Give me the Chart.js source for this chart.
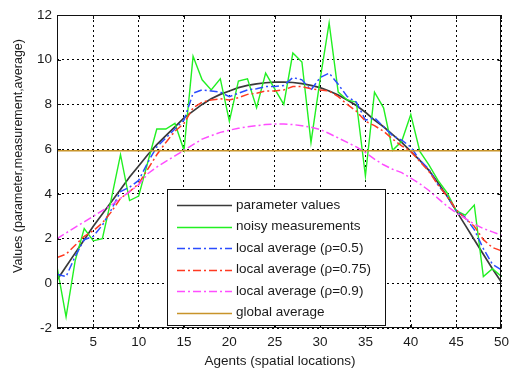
<!DOCTYPE html>
<html>
<head>
<meta charset="utf-8">
<script src="https://cdn.jsdelivr.net/npm/chart.js@4/dist/chart.umd.min.js"></script>
<style>
html,body{margin:0;padding:0;background:#fff;}
#wrap{width:515px;height:369px;position:relative;}
</style>
</head>
<body>
<div id="wrap"><canvas id="c" width="515" height="369"></canvas></div>
<script>
const agents = [1,2,3,4,5,6,7,8,9,10,11,12,13,14,15,16,17,18,19,20,21,22,23,24,25,26,27,28,29,30,31,32,33,34,35,36,37,38,39,40,41,42,43,44,45,46,47,48,49,50];
const parameterValues = [0.15,0.75,1.35,1.95,2.55,3.1,3.65,4.2,4.75,5.25,5.75,6.2,6.6,7.0,7.4,7.7,8.0,8.25,8.45,8.6,8.75,8.85,8.92,8.97,9.0,9.0,8.98,8.93,8.85,8.75,8.6,8.42,8.2,7.95,7.65,7.3,7.0,6.65,6.3,5.9,5.5,5.05,4.5,3.9,3.25,2.6,1.95,1.3,0.65,0.05];
const noisyMeasurements = [0.75,-1.5,1.0,2.45,1.9,2.0,3.8,5.75,3.7,3.9,5.4,6.9,6.9,7.15,5.95,10.15,9.1,8.65,9.15,7.25,9.05,9.15,7.85,9.4,8.7,8.0,10.3,9.9,6.3,9.1,11.65,8.55,8.2,8.1,4.8,8.55,7.85,5.95,6.35,7.55,5.9,5.3,4.6,4.05,3.25,3.05,3.5,0.3,0.65,0.3];
const localAvg05 = [0.4,0.3,1.2,1.95,2.1,2.6,3.3,4.1,4.3,4.6,5.4,6.1,6.5,6.9,7.3,8.5,8.65,8.6,8.55,8.35,8.5,8.65,8.7,8.8,8.8,8.85,9.2,9.1,8.65,9.2,9.4,8.9,8.35,8.1,7.3,7.4,7.0,6.6,6.4,6.1,5.5,5.1,4.4,3.9,3.25,2.95,2.4,1.55,0.85,0.6];
const localAvg075 = [1.15,1.3,1.7,2.1,2.35,2.7,3.2,3.8,4.1,4.45,5.1,5.75,6.3,6.8,7.15,7.85,8.1,8.2,8.25,8.2,8.3,8.45,8.5,8.6,8.6,8.65,8.8,8.8,8.7,8.65,8.6,8.35,8.0,7.7,7.25,7.05,6.8,6.45,6.15,5.9,5.45,5.0,4.4,3.9,3.3,2.9,2.55,1.95,1.6,1.45];
const localAvg09 = [2.0,2.25,2.5,2.75,3.0,3.25,3.5,3.8,4.1,4.4,4.9,5.2,5.45,5.7,5.95,6.2,6.45,6.6,6.75,6.85,6.93,7.0,7.05,7.1,7.12,7.12,7.1,7.05,6.98,6.88,6.7,6.5,6.3,6.1,5.85,5.55,5.3,5.1,4.95,4.7,4.45,4.15,3.8,3.45,3.15,2.9,2.65,2.45,2.3,2.15];
const globalAverage = [5.93,5.93,5.93,5.93,5.93,5.93,5.93,5.93,5.93,5.93,5.93,5.93,5.93,5.93,5.93,5.93,5.93,5.93,5.93,5.93,5.93,5.93,5.93,5.93,5.93,5.93,5.93,5.93,5.93,5.93,5.93,5.93,5.93,5.93,5.93,5.93,5.93,5.93,5.93,5.93,5.93,5.93,5.93,5.93,5.93,5.93,5.93,5.93,5.93,5.93];
const xTickValues = [5,10,15,20,25,30,35,40,45,50];
const yTickValues = [-2,0,2,4,6,8,10,12];
const seriesLabels = ['parameter values','noisy measurements','local average (\u03c1=0.5)','local average (\u03c1=0.75)','local average (\u03c1=0.9)','global average'];
const xTitle = 'Agents (spatial locations)';
const yTitle = 'Values (parameter,measurement,average)';

const FONT = '"Liberation Sans", Arial, Helvetica, sans-serif';
const TEXT = '#1a1a1a';
const dashDot = [8,3,2,3];

function pts(arr){ return arr.map((v,i)=>({x:agents[i], y:v})); }

const styles = [
  {color:'#3a3a3a', width:1.7, dash:[]},
  {color:'#22f022', width:1.4, dash:[]},
  {color:'#2b4cff', width:1.5, dash:dashDot},
  {color:'#ff3a22', width:1.5, dash:dashDot},
  {color:'#ff4dff', width:1.5, dash:dashDot},
  {color:'#c8942a', width:1.6, dash:[]}
];
const seriesData = [parameterValues, noisyMeasurements, localAvg05, localAvg075, localAvg09, globalAverage];

const datasets = seriesData.map((arr,i)=>({
  label: seriesLabels[i],
  data: pts(arr),
  borderColor: styles[i].color,
  borderWidth: styles[i].width,
  borderDash: styles[i].dash,
  pointRadius: 0,
  fill: false,
  tension: 0,
  order: seriesData.length - i
}));

const decor = {
  id:'decor',
  afterDatasetsDraw(chart){
    const ctx = chart.ctx, a = chart.chartArea;
    const xs = chart.scales.x, ys = chart.scales.y;
    ctx.save();
    ctx.strokeStyle = '#111';
    ctx.lineWidth = 1;
    ctx.setLineDash([]);
    ctx.strokeRect(Math.round(a.left)+0.5, Math.round(a.top)+0.5, Math.round(a.right-a.left)-1, Math.round(a.bottom-a.top)-1);
    ctx.beginPath();
    xTickValues.forEach(v=>{
      const px = Math.round(xs.getPixelForValue(v))+0.5;
      ctx.moveTo(px, a.bottom); ctx.lineTo(px, a.bottom-4);
      ctx.moveTo(px, a.top); ctx.lineTo(px, a.top+4);
    });
    yTickValues.forEach(v=>{
      const py = Math.round(ys.getPixelForValue(v))+0.5;
      ctx.moveTo(a.left, py); ctx.lineTo(a.left+4, py);
      ctx.moveTo(a.right, py); ctx.lineTo(a.right-4, py);
    });
    ctx.stroke();
    const lx = 167.5, ly = 189.5, lw = 218, lh = 136;
    ctx.fillStyle = '#fff';
    ctx.fillRect(lx, ly, lw, lh);
    ctx.strokeStyle = '#111';
    ctx.strokeRect(lx, ly, lw, lh);
    ctx.font = '13.5px ' + FONT;
    ctx.textBaseline = 'middle';
    ctx.textAlign = 'left';
    seriesLabels.forEach((lab,i)=>{
      const y = 205 + i*21.5;
      ctx.beginPath();
      ctx.strokeStyle = styles[i].color;
      ctx.lineWidth = styles[i].width;
      ctx.setLineDash(styles[i].dash);
      ctx.moveTo(177, Math.round(y)+0.5);
      ctx.lineTo(232, Math.round(y)+0.5);
      ctx.stroke();
      ctx.setLineDash([]);
      ctx.fillStyle = TEXT;
      ctx.fillText(lab, 236, y);
    });
    ctx.fillStyle = TEXT;
    ctx.font = '13.5px ' + FONT;
    ctx.textAlign = 'center';
    ctx.textBaseline = 'middle';
    ctx.fillText(xTitle, 280, 361);
    ctx.save();
    ctx.translate(19, 156);
    ctx.rotate(-Math.PI/2);
    ctx.font = '12.5px ' + FONT;
    ctx.fillText(yTitle, 0, 0);
    ctx.restore();
    ctx.restore();
  }
};

new Chart(document.getElementById('c'), {
  type:'line',
  data:{datasets},
  options:{
    responsive:false,
    animation:false,
    devicePixelRatio:1,
    layout:{padding:{left:0,right:8,top:15,bottom:0}},
    plugins:{legend:{display:false}, tooltip:{enabled:false}, title:{display:false}},
    scales:{
      x:{
        type:'linear', min:1, max:50,
        afterBuildTicks(s){ s.ticks = xTickValues.map(v=>({value:v})); },
        afterFit(s){ s.height = 41; },
        grid:{color:'#000', lineWidth:1, drawTicks:false},
        border:{display:false, dash:[2,3]},
        ticks:{color:TEXT, font:{family:FONT, size:13.5}, padding:6, maxRotation:0, autoSkip:false}
      },
      y:{
        type:'linear', min:-2, max:12,
        afterBuildTicks(s){ s.ticks = yTickValues.map(v=>({value:v})); },
        afterFit(s){ s.width = 57; },
        grid:{color:'#000', lineWidth:1, drawTicks:false},
        border:{display:false, dash:[2,3]},
        ticks:{color:TEXT, font:{family:FONT, size:13.5}, padding:5}
      }
    }
  },
  plugins:[decor]
});
</script>
</body>
</html>
